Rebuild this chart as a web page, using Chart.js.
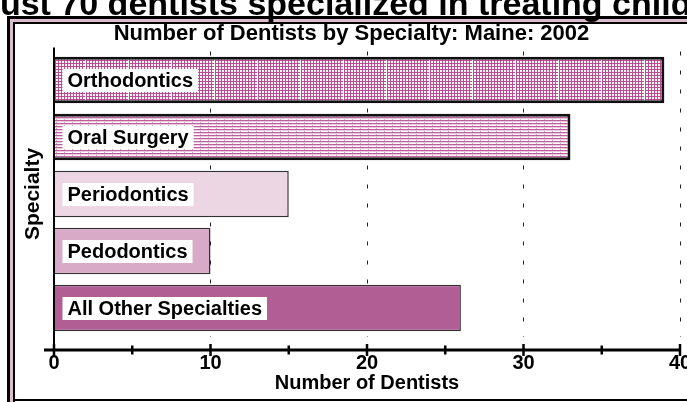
<!DOCTYPE html>
<html>
<head>
<meta charset="utf-8">
<script src="https://cdn.jsdelivr.net/npm/chart.js@4/dist/chart.umd.min.js"></script>
<style>
  body { margin: 0; width: 687px; height: 402px; overflow: hidden; background: #fff; position: relative; }
  #headline {
    position: absolute; left: -19px; top: -14px; z-index: 2;
    font: bold 34px "Liberation Sans", Arial, sans-serif;
    line-height: 34px; white-space: nowrap; color: #000;
  }
  #chartBox { position: absolute; left: 0; top: 0; }
</style>
</head>
<body>
<div id="headline">Just 70 dentists specialized in treating child</div>
<canvas id="chartBox" width="720" height="402"></canvas>
<script>
// Data
const categories = ["Orthodontics", "Oral Surgery", "Periodontics", "Pedodontics", "All Other Specialties"];
const dentists = [39, 33, 15, 10, 26];
const tickLabels = ["0", "10", "20", "30", "40"];

const chartTitle = "Number of Dentists by Specialty: Maine: 2002";
const xTitle = "Number of Dentists";
const yTitle = "Specialty";

const FONT = '"Liberation Sans", Arial, sans-serif';

// Fill patterns for the two top bars
function makePattern(kind) {
    const c = document.createElement("canvas");
    const g = c.getContext("2d");
    if (kind === "grid") {
        c.width = 43; c.height = 3;
        g.fillStyle = "#fdf2f8"; g.fillRect(0, 0, 43, 3);
        g.fillStyle = "#b54f90";
        g.fillRect(0, 0, 42, 1);
        for (let x = 0; x < 42; x += 3) g.fillRect(x, 0, 1, 3);
        g.fillStyle = "#fff"; g.fillRect(42, 0, 1, 3);
    } else {
        c.width = 8; c.height = 3;
        g.fillStyle = "#fff"; g.fillRect(0, 0, 8, 3);
        g.fillStyle = "#bd5f9e"; g.fillRect(0, 0, 8, 1);
        g.fillStyle = "#eccbdf"; g.fillRect(0, 1, 8, 1);
        g.fillStyle = "#d6a3c3"; g.fillRect(0, 2, 1, 1);
    }
    return g.createPattern(c, "repeat");
}

const canvas = document.getElementById("chartBox");
const ctx = canvas.getContext("2d");

const barFills = [makePattern("grid"), makePattern("lines"), "#ecd6e3", "#d8aac8", "#b05e94"];
const barBorders = ["#111", "#111", "#333", "#333", "#333"];
const barBorderWidths = [3, 3, 1.5, 1.5, 1.5];

// Frame, bar labels and the axis lines
const extras = {
    id: "extras",
    beforeDraw(chart) {
        const c = chart.ctx;
        const w = chart.width;
        c.save();
        c.fillStyle = "#fff";
        c.fillRect(0, 0, w, chart.height);
        c.fillStyle = "#000";
        c.fillRect(7, 16, w, 3);
        c.fillRect(7, 16, 3, chart.height);
        c.fillStyle = "#dcbdd0";
        c.fillRect(10, 19, w, 3);
        c.fillRect(10, 19, 3, chart.height);
        c.fillStyle = "#000";
        c.fillRect(13, 22, w, 2);
        c.fillRect(13, 22, 2, chart.height);
        c.fillRect(13, 399, w, 2);
        c.restore();
    },
    afterDatasetsDraw(chart) {
        const c = chart.ctx;
        const meta = chart.getDatasetMeta(0);
        c.save();
        c.font = "bold 20px " + FONT;
        c.textBaseline = "middle";
        meta.data.forEach((bar, i) => {
            const text = categories[i];
            const tw = c.measureText(text).width;
            const left = bar.base + 8;
            c.fillStyle = "#fff";
            c.fillRect(left, bar.y - 11, tw + 10, 23);
            c.fillStyle = "#000";
            c.fillText(text, left + 5, bar.y + 1);
        });
        c.restore();
    },
    afterDraw(chart) {
        const c = chart.ctx;
        const xs = chart.scales.x;
        const area = chart.chartArea;
        const axisY = area.bottom + 13.5;
        const x0 = xs.getPixelForValue(xs.min);
        const x1 = xs.getPixelForValue(xs.max);
        c.save();
        c.strokeStyle = "#000";
        c.lineWidth = 2;
        c.beginPath();
        c.moveTo(x0, area.top - 4);
        c.lineTo(x0, axisY);
        c.stroke();
        c.lineWidth = 3;
        c.beginPath();
        c.moveTo(x0 - 10, axisY);
        c.lineTo(x1 + 1, axisY);
        c.stroke();
        c.lineWidth = 2.5;
        xs.ticks.forEach(t => {
            const px = xs.getPixelForValue(t.value);
            const h = t.value % 10 === 0 ? 6 : 4.5;
            c.beginPath();
            c.moveTo(px, axisY - h);
            c.lineTo(px, axisY + h);
            c.stroke();
        });
        c.restore();
    }
};

new Chart(ctx, {
    type: "bar",
    data: {
        labels: categories,
        datasets: [{
            data: dentists,
            backgroundColor: barFills,
            borderColor: barBorders,
            borderWidth: barBorderWidths,
            borderSkipped: "start",
            barPercentage: 0.82,
            categoryPercentage: 1
        }]
    },
    options: {
        indexAxis: "y",
        responsive: false,
        animation: false,
        layout: { padding: { left: 23, right: 40, top: 0, bottom: 9 } },
        plugins: {
            legend: { display: false },
            tooltip: { enabled: false },
            title: {
                display: true,
                text: chartTitle,
                color: "#000",
                font: { family: FONT, size: 22, weight: "bold", lineHeight: 1 },
                padding: { top: 23, bottom: 6.5 }
            }
        },
        scales: {
            x: {
                min: 0,
                max: 40,
                ticks: {
                    stepSize: 5,
                    autoSkip: false,
                    padding: 15,
                    color: "#000",
                    font: { family: FONT, size: 20, weight: "bold", lineHeight: 1.2 },
                    callback: v => tickLabels.includes(String(v)) ? String(v) : ""
                },
                grid: {
                    drawTicks: false,
                    lineWidth: 1,
                    color: c => (c.tick && c.tick.value > 0 && c.tick.value % 10 === 0) ? "#222" : "rgba(0,0,0,0)"
                },
                border: { display: false, dash: [4, 15] },
                title: {
                    display: true,
                    text: xTitle,
                    color: "#000",
                    font: { family: FONT, size: 20, weight: "bold", lineHeight: 1 },
                    padding: { top: -17.5, bottom: 0 }
                }
            },
            y: {
                ticks: { display: false },
                grid: { display: false, drawTicks: false },
                border: { display: false },
                title: {
                    display: true,
                    text: yTitle,
                    color: "#000",
                    font: { family: FONT, size: 21, weight: "bold", lineHeight: 1 },
                    padding: { top: 0, bottom: 10 }
                }
            }
        }
    },
    plugins: [extras]
});
</script>
</body>
</html>
